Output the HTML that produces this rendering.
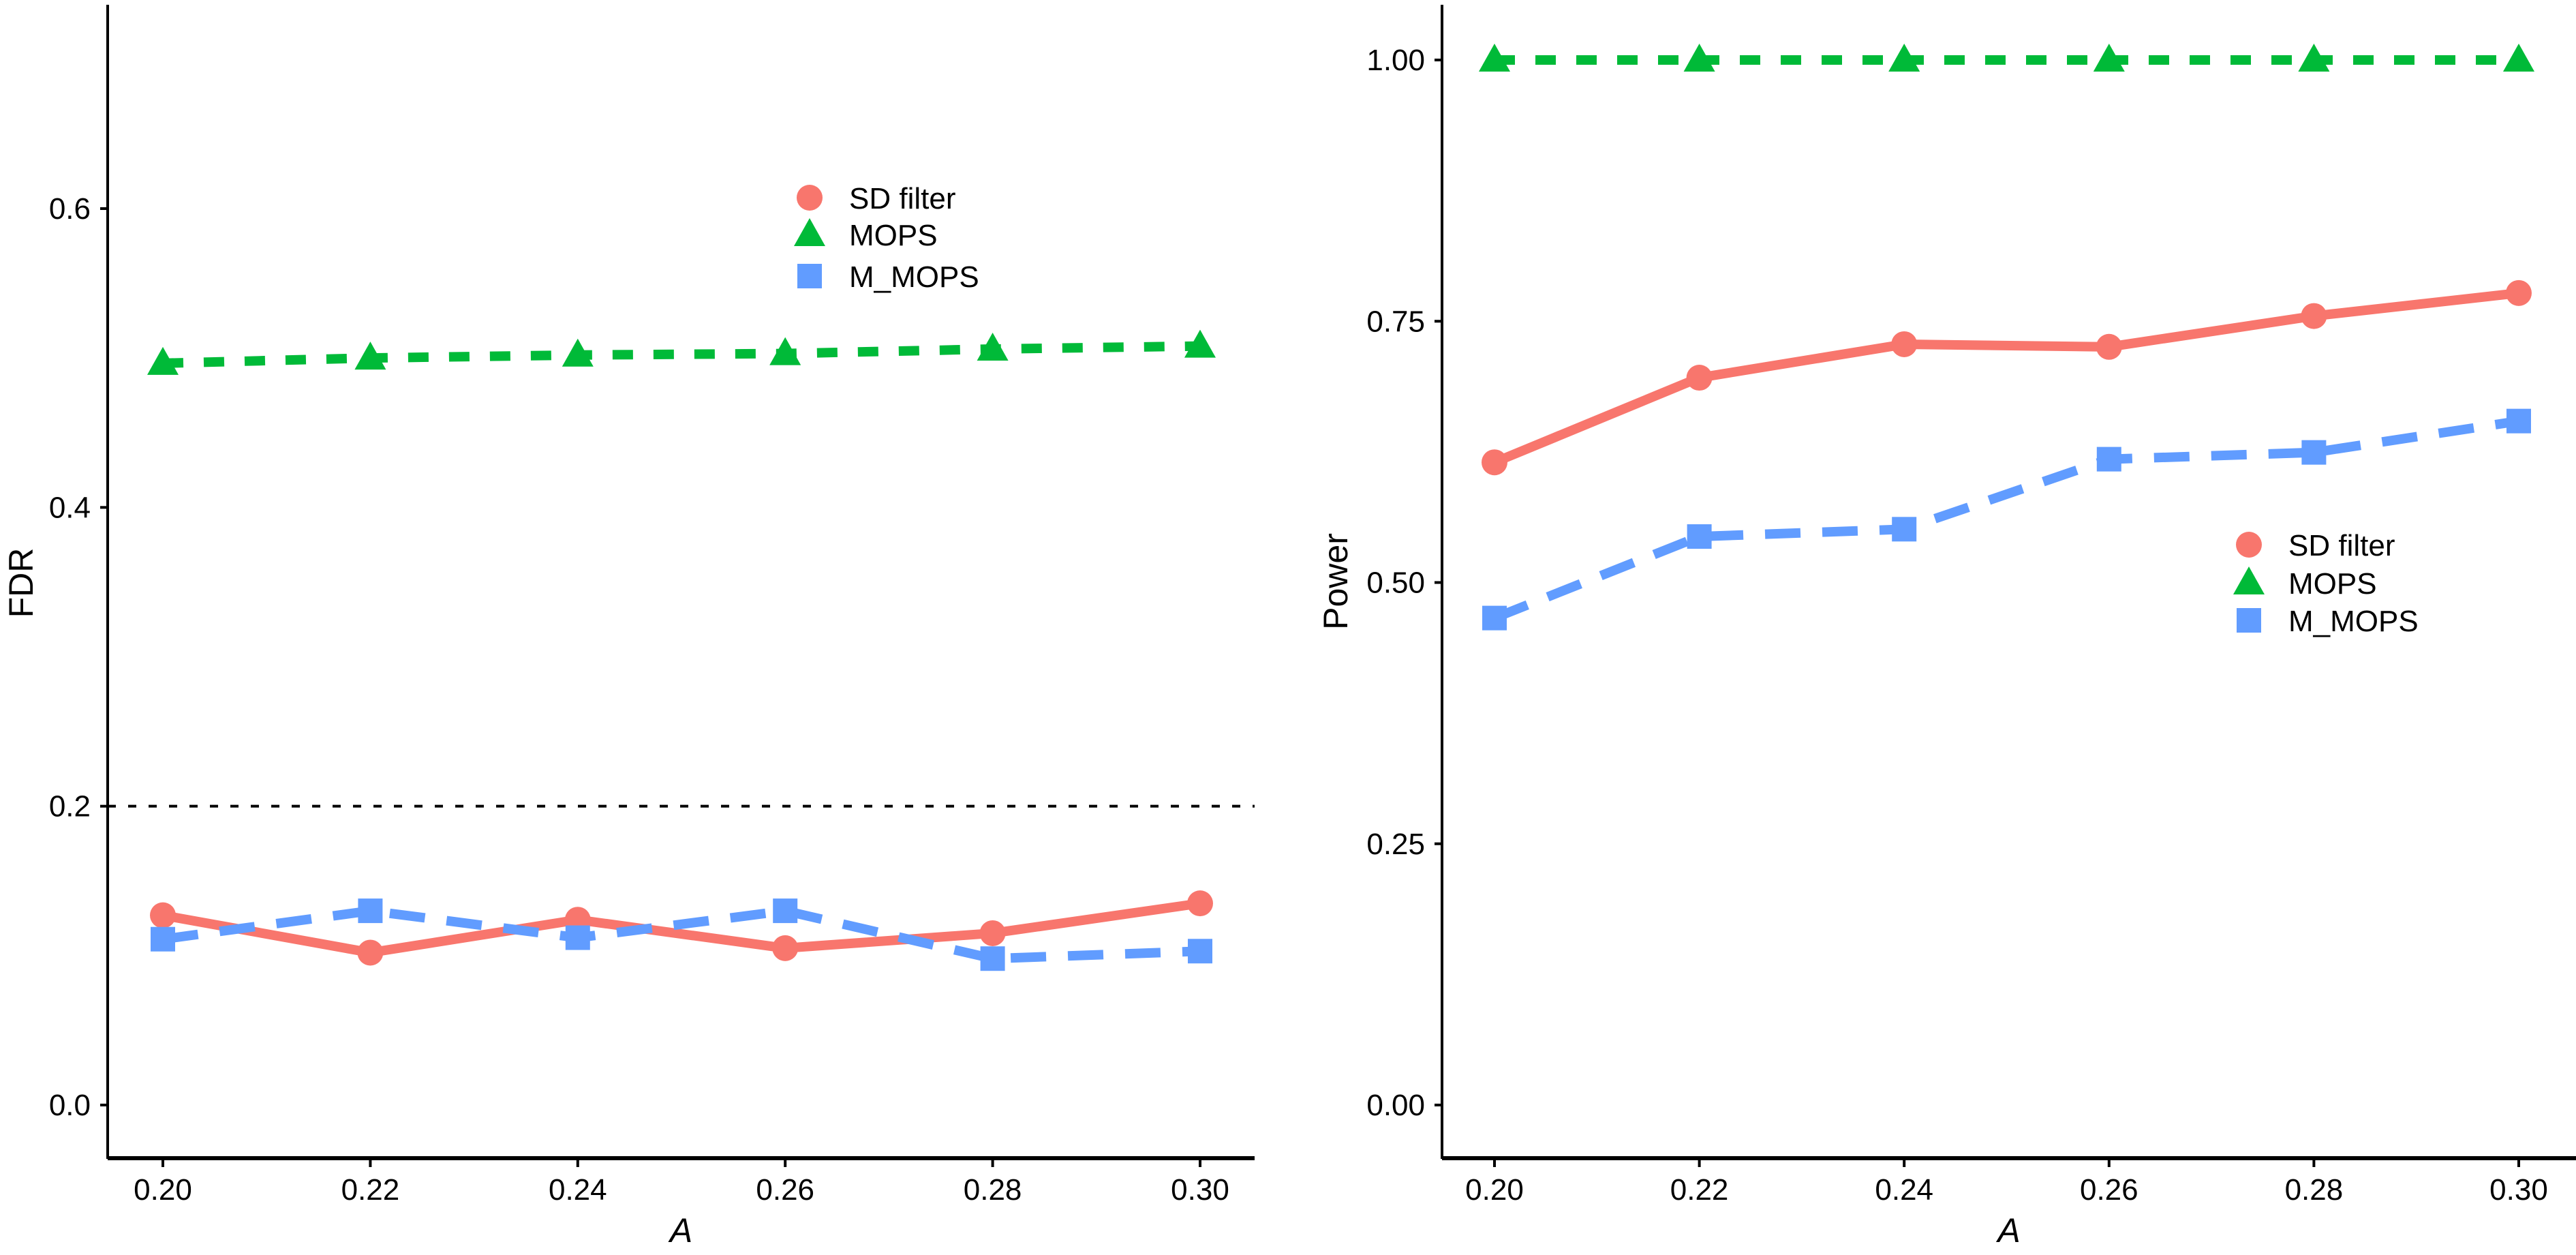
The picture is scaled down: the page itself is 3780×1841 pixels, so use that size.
<!DOCTYPE html>
<html><head><meta charset="utf-8"><style>
html,body{margin:0;padding:0;background:#fff;}
svg{display:block;font-family:"Liberation Sans",Arial,sans-serif;}
</style></head><body>
<svg id="chart" width="3780" height="1841" viewBox="0 0 3780 1841" xmlns="http://www.w3.org/2000/svg"></svg>
<script>
const xCats = [0.20, 0.22, 0.24, 0.26, 0.28, 0.30];
const xTickLabels = ["0.20","0.22","0.24","0.26","0.28","0.30"];
const fdrSD = [0.127, 0.102, 0.124, 0.105, 0.115, 0.135];
const fdrMOPS = [0.4965, 0.500, 0.502, 0.503, 0.506, 0.508];
const fdrMMOPS = [0.111, 0.130, 0.112, 0.130, 0.098, 0.103];
const fdrTicks = [0.0, 0.2, 0.4, 0.6];
const fdrTickLabels = ["0.0","0.2","0.4","0.6"];
const fdrThreshold = 0.2;
const powSD = [0.615, 0.696, 0.728, 0.7255, 0.755, 0.777];
const powMOPS = [1.0, 1.0, 1.0, 1.0, 1.0, 1.0];
const powMMOPS = [0.466, 0.544, 0.551, 0.618, 0.6245, 0.6545];
const powTicks = [0, 0.25, 0.5, 0.75, 1.0];
const powTickLabels = ["0.00","0.25","0.50","0.75","1.00"];
const seriesNames = ["SD filter","MOPS","M_MOPS"];

const NS = "http://www.w3.org/2000/svg";
const svg = document.getElementById('chart');
const RED = "#F8766D", GREEN = "#00BA38", BLUE = "#619CFF";
function mk(tag, attrs, parent){const e=document.createElementNS(NS,tag);for(const k in attrs)e.setAttribute(k,attrs[k]);(parent||svg).appendChild(e);return e;}

function marker(g, shape, cx, cy, color){
  let e;
  if(shape==='circle'){e=mk('circle',{cx:cx,cy:cy,r:19,fill:color},g);}
  else if(shape==='tri'){e=mk('polygon',{points:`${cx},${cy-24} ${cx+23},${cy+17} ${cx-23},${cy+17}`,fill:color},g);}
  else {e=mk('rect',{x:cx-18,y:cy-18,width:36,height:36,fill:color},g);}
  return e;
}

function panel(cfg){
  const g = mk('g',{});
  
  
  const xs = v => cfg.x0 + (v-0.20)/(0.10)*(cfg.x1-cfg.x0);
  const ys = v => cfg.y0 - (v-cfg.vmin)/(cfg.vmax-cfg.vmin)*(cfg.y0-cfg.y1);
  // axes
  const ya = mk('line',{x1:cfg.ax,y1:7,x2:cfg.ax,y2:1700,stroke:'#000','stroke-width':4},g);
  
  
  const xa = mk('line',{x1:cfg.ax,y1:1699,x2:cfg.axEnd,y2:1699,stroke:'#000','stroke-width':6},g);
  
  
  cfg.ticks.forEach((t,i)=>{
    const y=ys(t);
    mk('line',{x1:cfg.ax-11,y1:y,x2:cfg.ax,y2:y,stroke:'#000','stroke-width':4},g);
    const tx=mk('text',{x:cfg.ax-25,y:y+15,'text-anchor':'end','font-size':44,fill:'#000'},g);
    tx.textContent=cfg.tickLabels[i];
    
    
  });
  xCats.forEach((c,i)=>{
    const x=xs(c);
    mk('line',{x1:x,y1:1699,x2:x,y2:1712,stroke:'#000','stroke-width':4},g);
    const tx=mk('text',{x:x,y:1760,'text-anchor':'middle','font-size':44,fill:'#000'},g);
    tx.textContent=xTickLabels[i];
    
    
  });
  const xt=mk('text',{x:(cfg.ax+cfg.axEnd)/2,y:1822,'text-anchor':'middle','font-size':50,'font-style':'italic',fill:'#000'},g);
  xt.textContent='A';
  
  
  const yt=mk('text',{x:cfg.ytx,y:cfg.yty,'text-anchor':'middle','font-size':50,fill:'#000',transform:`rotate(-90 ${cfg.ytx} ${cfg.yty})`},g);
  yt.textContent=cfg.ytitle;
  
  
  if(cfg.threshold!==undefined){
    const th=mk('line',{x1:cfg.ax,y1:ys(cfg.threshold),x2:cfg.axEnd,y2:ys(cfg.threshold),stroke:'#000','stroke-width':4,'stroke-dasharray':'12 18'},g);
    
    
  }
  const series=[
    {vals:cfg.sd,color:RED,dash:'none',shape:'circle',name:'sd-filter'},
    {vals:cfg.mops,color:GREEN,dash:'30 30',shape:'tri',name:'mops'},
    {vals:cfg.mm,color:BLUE,dash:'52 32',shape:'rect',name:'m-mops'}
  ];
  series.forEach(s=>{
    const pts=s.vals.map((v,i)=>xs(xCats[i])+','+ys(v)).join(' ');
    const pl=mk('polyline',{points:pts,fill:'none',stroke:s.color,'stroke-width':14,'stroke-dasharray':s.dash},g);
    
    
    s.vals.forEach((v,i)=>{
      const m=marker(g,s.shape,xs(xCats[i]),ys(v),s.color);
      
      
    });
  });
  // legend
  const lg=mk('g',{},g);
  
  
  const shapes=['circle','tri','rect'], cols=[RED,GREEN,BLUE];
  seriesNames.forEach((n,i)=>{
    const y=cfg.legY[i];
    const m=marker(lg,shapes[i],cfg.legX,y,cols[i]);
    
    
    const t=mk('text',{x:cfg.legX+58,y:y+16,'font-size':44,fill:'#000'},lg);
    t.textContent=n;
    
    
  });
}

panel({name:'fdr-panel',ax:158,axEnd:1841,x0:239,x1:1761,y0:1621,y1:306,vmin:0,vmax:0.6,
  ticks:fdrTicks,tickLabels:fdrTickLabels,ytitle:'FDR',ytx:48,yty:855,threshold:fdrThreshold,
  sd:fdrSD,mops:fdrMOPS,mm:fdrMMOPS,legX:1188,legY:[290,344,405]});
panel({name:'power-panel',ax:2116,axEnd:3780,x0:2193,x1:3696,y0:1621,y1:88,vmin:0,vmax:1,
  ticks:powTicks,tickLabels:powTickLabels,ytitle:'Power',ytx:1977,yty:853,
  sd:powSD,mops:powMOPS,mm:powMMOPS,legX:3300,legY:[799,855,910]});
</script>
</body></html>
